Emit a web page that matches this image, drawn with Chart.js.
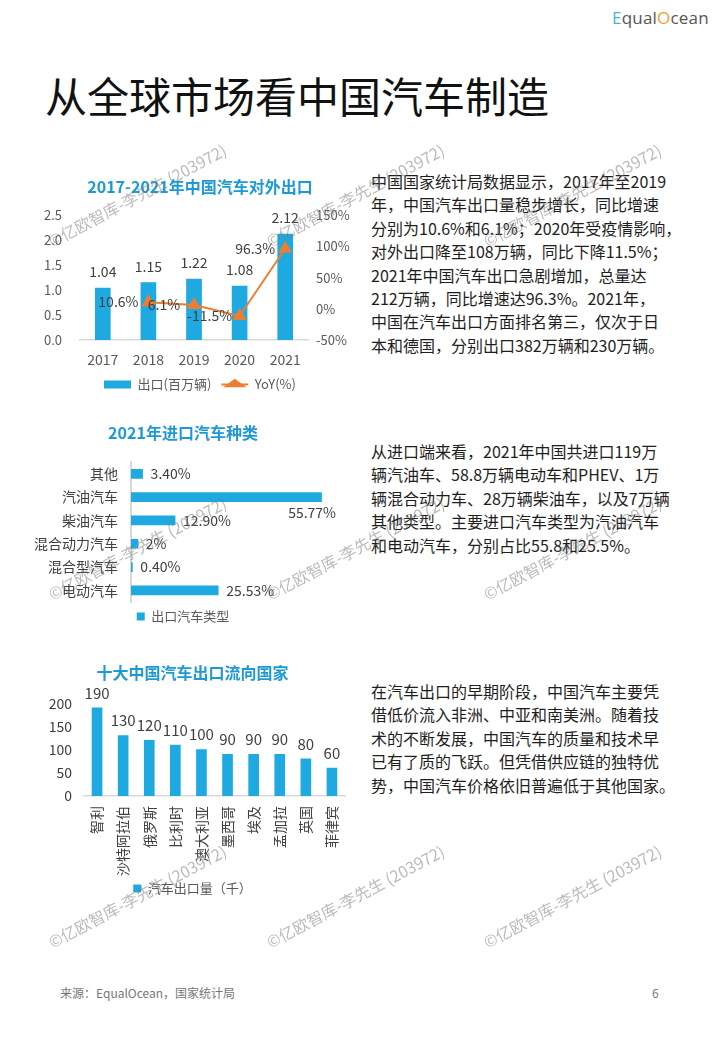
<!DOCTYPE html>
<html>
<head>
<meta charset="utf-8">
<script src="https://cdn.jsdelivr.net/npm/chart.js@4"></script>
<style>
  html, body { margin: 0; padding: 0; background: #fff; }
  body { width: 720px; height: 1040px; position: relative; overflow: hidden;
         font-family: "Noto Sans CJK SC", "Noto Sans", sans-serif; color: #222; }
  .abs { position: absolute; }
  #logo { left: 612px; top: 6px; font-family: "Open Sans", sans-serif; font-size: 17px; color: #555; letter-spacing: 0.2px; }
  #logo .e { color: #49b7c9; }
  #logo .o { color: #f0a030; }
  #title { left: 45px; top: 70px; font-size: 42px; line-height: 1.2; color: #111; white-space: nowrap; }
  .para { left: 371px; font-size: 16px; line-height: 23.4px; color: #1e1e1e; white-space: nowrap; }
  #foot { left: 60px; top: 984px; font-size: 12px; color: #777; }
  #page { left: 652px; top: 984px; font-size: 12px; color: #777; }
  canvas { position: absolute; }
  .wm { position: absolute; font-size: 16px; color: rgba(120,120,120,0.5); white-space: nowrap;
        transform: translate(-50%, -50%) rotate(-28deg); pointer-events: none; }
</style>
</head>
<body>
<div id="logo" class="abs"><span class="e">E</span>qual<span class="o">O</span>cean</div>
<div id="title" class="abs">从全球市场看中国汽车制造</div>

<canvas id="exportChart" width="320" height="230" style="left:40px;top:171px;"></canvas>
<canvas id="importChart" width="320" height="214" style="left:30px;top:419px;"></canvas>
<canvas id="countryChart" width="320" height="246" style="left:40px;top:659px;"></canvas>

<div class="abs para" style="top:170px;">中国国家统计局数据显示，2017年至2019<br>年，中国汽车出口量稳步增长，同比增速<br>分别为10.6%和6.1%；2020年受疫情影响，<br>对外出口降至108万辆，同比下降11.5%；<br>2021年中国汽车出口急剧增加，总量达<br>212万辆，同比增速达96.3%。2021年，<br>中国在汽车出口方面排名第三，仅次于日<br>本和德国，分别出口382万辆和230万辆。</div>
<div class="abs para" style="top:440px;">从进口端来看，2021年中国共进口119万<br>辆汽油车、58.8万辆电动车和PHEV、1万<br>辆混合动力车、28万辆柴油车，以及7万辆<br>其他类型。主要进口汽车类型为汽油汽车<br>和电动汽车，分别占比55.8和25.5%。</div>
<div class="abs para" style="top:680px;">在汽车出口的早期阶段，中国汽车主要凭<br>借低价流入非洲、中亚和南美洲。随着技<br>术的不断发展，中国汽车的质量和技术早<br>已有了质的飞跃。但凭借供应链的独特优<br>势，中国汽车价格依旧普遍低于其他国家。</div>

<div id="foot" class="abs">来源：EqualOcean，国家统计局</div>
<div id="page" class="abs">6</div>

<div id="marks"></div>

<script>
// chart 1: exports 2017-2021
const exportYears = ['2017', '2018', '2019', '2020', '2021'];
const exportVolume = [1.04, 1.15, 1.22, 1.08, 2.12];
const exportYoY = [null, 10.6, 6.1, -11.5, 96.3];

// chart 2: import types 2021
const importTypes = ['其他', '汽油汽车', '柴油汽车', '混合动力汽车', '混合型汽车', '电动汽车'];
const importShares = [3.40, 55.77, 12.90, 2, 0.40, 25.53];
const importShareText = ['3.40%', '55.77%', '12.90%', '2%', '0.40%', '25.53%'];

// chart 3: top ten destinations
const countries = ['智利', '沙特阿拉伯', '俄罗斯', '比利时', '澳大利亚', '墨西哥', '埃及', '孟加拉', '英国', '菲律宾'];
const countryVolume = [190, 130, 120, 110, 100, 90, 90, 90, 80, 60];

const watermark = '©亿欧智库-李先生 (203972)';
const markRows = [195, 548, 896];
const markCols = [137, 355, 572];

const FONT = '"Noto Sans CJK SC", "Noto Sans", sans-serif';
const BLUE = '#1eaae0';
const TITLE_BLUE = '#1d9ad6';
const ORANGE = '#ed7d31';
const TEXT = '#404040';
const AXIS = '#d9d9d9';

Chart.defaults.font.family = FONT;
Chart.defaults.color = TEXT;
Chart.defaults.animation = false;

// draws the value labels, each dataset says where
const valueLabels = {
    id: 'valueLabels',
    afterDatasetsDraw: function(chart) {
        const ctx = chart.ctx;
        chart.data.datasets.forEach(function(ds, i) {
            if (!ds.labelAt) return;
            chart.getDatasetMeta(i).data.forEach(function(el, j) {
                if (ds.data[j] == null) return;
                ctx.save();
                ctx.font = (ds.labelSize || 14) + 'px ' + FONT;
                ctx.fillStyle = TEXT;
                ctx.textBaseline = 'middle';
                const p = ds.labelAt(el, j, chart, ctx);
                ctx.textAlign = p.align || 'center';
                ctx.fillText(p.text, p.x, p.y);
                ctx.restore();
            });
        });
    }
};

// legend line through the triangle marker
const legendLine = {
    id: 'legendLine',
    afterDraw: function(chart) {
        const legend = chart.legend;
        if (!legend || !legend.legendHitBoxes) return;
        legend.legendItems.forEach(function(item, i) {
            const ds = chart.data.datasets[item.datasetIndex];
            if (ds.type !== 'line') return;
            const box = legend.legendHitBoxes[i];
            const ctx = chart.ctx;
            const y = box.top + box.height / 2;
            ctx.save();
            ctx.strokeStyle = ORANGE;
            ctx.lineWidth = 2;
            ctx.beginPath();
            ctx.moveTo(box.left, y);
            ctx.lineTo(box.left + 27, y);
            ctx.stroke();
            ctx.restore();
        });
    }
};

function titleOpts(text, top, bottom) {
    return {
        display: true,
        text: text,
        color: TITLE_BLUE,
        font: { size: 16, weight: 'bold' },
        padding: { top: top, bottom: bottom }
    };
}

new Chart(document.getElementById('exportChart'), {
    data: {
        labels: exportYears,
        datasets: [{
            type: 'bar',
            label: '出口(百万辆)',
            data: exportVolume,
            backgroundColor: BLUE,
            barThickness: 15,
            yAxisID: 'y',
            order: 2,
            labelAt: function(el, j) {
                return { text: exportVolume[j].toFixed(2), x: el.x, y: el.y - 16 };
            }
        }, {
            type: 'line',
            label: 'YoY(%)',
            data: exportYoY,
            borderColor: ORANGE,
            backgroundColor: ORANGE,
            borderWidth: 2,
            pointStyle: 'triangle',
            pointRadius: 6,
            yAxisID: 'y1',
            order: 1,
            labelAt: function(el, j) {
                return { text: exportYoY[j].toFixed(1) + '%', x: el.x - 30, y: el.y };
            }
        }]
    },
    options: {
        responsive: false,
        plugins: {
            title: titleOpts('2017-2021年中国汽车对外出口', 6, 19),
            legend: {
                position: 'bottom',
                labels: {
                    usePointStyle: true,
                    pointStyleWidth: 27,
                    boxHeight: 8,
                    padding: 10,
                    color: '#595959',
                    font: { size: 13 },
                    generateLabels: function(chart) {
                        return chart.data.datasets.map(function(ds, i) {
                            return {
                                text: ds.label,
                                datasetIndex: i,
                                fillStyle: ds.backgroundColor,
                                strokeStyle: ds.backgroundColor,
                                lineWidth: 0,
                                pointStyle: ds.type === 'line' ? 'triangle' : 'rect',
                                fontColor: '#595959'
                            };
                        });
                    }
                }
            },
            tooltip: { enabled: false }
        },
        scales: {
            x: {
                grid: { display: false, drawTicks: false },
                border: { color: AXIS, width: 1.5 },
                ticks: { font: { size: 14 }, color: '#595959', padding: 11 },
                afterFit: function(s) { s.height = 28; }
            },
            y: {
                min: 0, max: 2.5,
                grid: { display: false, drawTicks: false },
                border: { display: false },
                ticks: { stepSize: 0.5, font: { size: 13 }, color: '#595959', padding: 18,
                         callback: function(v) { return v.toFixed(1); } },
                afterFit: function(s) { s.width = 40; }
            },
            y1: {
                position: 'right',
                min: -50, max: 150,
                grid: { display: false, drawTicks: false },
                border: { display: false },
                ticks: { stepSize: 50, font: { size: 13 }, color: '#595959', padding: 8,
                         callback: function(v) { return v + '%'; } },
                afterFit: function(s) { s.width = 52; }
            }
        }
    },
    plugins: [valueLabels, legendLine]
});

new Chart(document.getElementById('importChart'), {
    type: 'bar',
    data: {
        labels: importTypes,
        datasets: [{
            label: '出口汽车类型',
            data: importShares,
            backgroundColor: BLUE,
            barThickness: 9,
            labelAt: function(el, j, chart, ctx) {
                const text = importShareText[j];
                const w = ctx.measureText(text).width;
                if (el.x + 8 + w > chart.chartArea.right) {
                    return { text: text, x: chart.chartArea.right, y: el.y + 16, align: 'right' };
                }
                return { text: text, x: el.x + 8, y: el.y, align: 'left' };
            }
        }]
    },
    options: {
        responsive: false,
        indexAxis: 'y',
        layout: { padding: { right: 14 } },
        plugins: {
            title: titleOpts('2021年进口汽车种类', 4, 20),
            legend: {
                position: 'bottom',
                labels: { boxWidth: 8, boxHeight: 8, padding: 8, color: '#595959', font: { size: 13 } }
            },
            tooltip: { enabled: false }
        },
        scales: {
            x: { display: false, min: 0, max: 60 },
            y: {
                grid: { display: false, drawTicks: false },
                border: { color: AXIS, width: 2 },
                ticks: { font: { size: 14 }, color: TEXT, padding: 13 },
                afterFit: function(s) { s.width = 101; }
            }
        }
    },
    plugins: [valueLabels]
});

new Chart(document.getElementById('countryChart'), {
    type: 'bar',
    data: {
        labels: countries,
        datasets: [{
            label: '汽车出口量（千）',
            data: countryVolume,
            backgroundColor: BLUE,
            barThickness: 10,
            labelSize: 15,
            labelAt: function(el, j) {
                return { text: String(countryVolume[j]), x: el.x, y: el.y - 15 };
            }
        }]
    },
    options: {
        responsive: false,
        layout: { padding: { right: 15 } },
        plugins: {
            title: titleOpts('十大中国汽车出口流向国家', 4, 21),
            legend: {
                position: 'bottom',
                labels: { boxWidth: 8, boxHeight: 8, padding: 4, color: '#595959', font: { size: 13 } }
            },
            tooltip: { enabled: false }
        },
        scales: {
            x: {
                grid: { display: false, drawTicks: false },
                border: { color: AXIS, width: 1.5 },
                ticks: { font: { size: 14 }, color: TEXT, padding: 10, minRotation: 90, maxRotation: 90 },
                afterFit: function(s) { s.height = 82; }
            },
            y: {
                min: 0, max: 200,
                grid: { display: false, drawTicks: false },
                border: { display: false },
                ticks: { stepSize: 50, font: { size: 14 }, color: TEXT, padding: 12 },
                afterFit: function(s) { s.width = 44; }
            }
        }
    },
    plugins: [valueLabels]
});

var marks = document.getElementById('marks');
markRows.forEach(function(y) {
    markCols.forEach(function(x) {
        var d = document.createElement('div');
        d.className = 'wm';
        d.style.left = x + 'px';
        d.style.top = y + 'px';
        d.textContent = watermark;
        marks.appendChild(d);
    });
});
</script>
</body>
</html>
